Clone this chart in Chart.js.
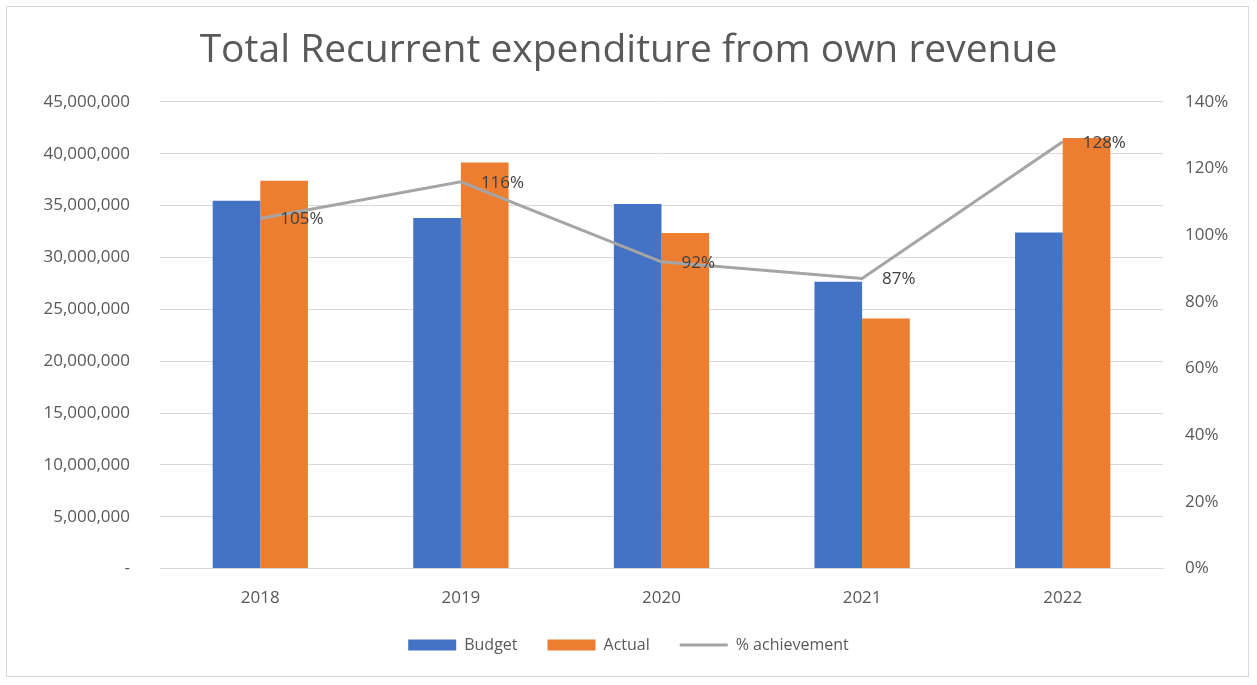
<!DOCTYPE html>
<html lang="en">
<head>
    <meta charset="UTF-8">
    <title>Total Recurrent expenditure</title>
    <style>
        body { margin: 0; background: #fff; }
        #wrap {
            position: absolute; left: 0; top: 0;
            width: 1257px; height: 685px;
        }
        #frame {
            position: absolute; left: 6px; top: 6px;
            width: 1243px; height: 671px;
            border: 1px solid #d9d9d9;
            box-sizing: border-box;
        }
    </style>
</head>
<body>
    <div id="wrap">
        <div id="frame"></div>
        <canvas id="myChart" width="1257" height="685"></canvas>
    </div>

    <script src="https://cdn.jsdelivr.net/npm/chart.js"></script>
    <script>
        const years = ['2018', '2019', '2020', '2021', '2022'];
        const budget = [35450000, 33800000, 35150000, 27650000, 32400000];
        const actual = [37400000, 39150000, 32350000, 24100000, 41500000];
        const achievement = [1.05, 1.16, 0.92, 0.87, 1.28];

        const grey = '#595959';
        const fam = '"Open Sans", sans-serif';

        // % labels to the right of each line point
        const pctLabels = {
            id: 'pctLabels',
            afterDatasetsDraw(chart) {
                const meta = chart.getDatasetMeta(2);
                const ctx = chart.ctx;
                ctx.save();
                ctx.font = '17px ' + fam;
                ctx.fillStyle = '#404040';
                ctx.textAlign = 'left';
                ctx.textBaseline = 'middle';
                meta.data.forEach((pt, i) => {
                    ctx.fillText(Math.round(achievement[i] * 100) + '%', pt.x + 20, pt.y + 1);
                });
                ctx.restore();
            }
        };

        new Chart(document.getElementById('myChart'), {
            type: 'bar',
            data: {
                labels: years,
                datasets: [
                    {
                        label: 'Budget',
                        data: budget,
                        backgroundColor: '#4472C4',
                        pointStyle: 'rect',
                        yAxisID: 'y',
                        order: 2
                    },
                    {
                        label: 'Actual',
                        data: actual,
                        backgroundColor: '#ED7D31',
                        pointStyle: 'rect',
                        yAxisID: 'y',
                        order: 2
                    },
                    {
                        type: 'line',
                        label: '% achievement',
                        data: achievement,
                        borderColor: '#A5A5A5',
                        backgroundColor: '#A5A5A5',
                        borderWidth: 3,
                        pointRadius: 0,
                        pointStyle: 'line',
                        tension: 0,
                        yAxisID: 'y1',
                        order: 1
                    }
                ]
            },
            options: {
                responsive: false,
                animation: false,
                categoryPercentage: 0.475,
                barPercentage: 1,
                layout: { padding: { left: 10, right: 10, top: 21, bottom: 22 } },
                plugins: {
                    title: {
                        display: true,
                        text: 'Total Recurrent expenditure from own revenue',
                        color: grey,
                        font: { size: 39, family: fam, weight: 'normal' },
                        padding: { top: 6, bottom: 28 }
                    },
                    legend: {
                        position: 'bottom',
                        labels: {
                            usePointStyle: true,
                            pointStyleWidth: 48,
                            boxHeight: 11,
                            color: grey,
                            padding: 30,
                            font: { size: 16, family: fam },
                            sort: (a, b) => a.datasetIndex - b.datasetIndex
                        }
                    },
                    tooltip: { enabled: false }
                },
                scales: {
                    x: {
                        grid: { display: false },
                        border: { color: '#d9d9d9' },
                        ticks: {
                            color: grey, padding: 11,
                            font: { size: 17, family: fam }
                        },
                        afterFit: s => { s.height = s.height - 12; }
                    },
                    y: {
                        position: 'left',
                        min: 0, max: 45000000,
                        ticks: {
                            stepSize: 5000000,
                            padding: 30,
                            color: grey,
                            font: { size: 17, family: fam },
                            callback: v => v === 0 ? '-' : v.toLocaleString('en-US')
                        },
                        grid: { color: '#d9d9d9', drawTicks: false },
                        border: { display: false },
                        afterFit: s => { s.width = 150; }
                    },
                    y1: {
                        position: 'right',
                        min: 0, max: 1.4,
                        ticks: {
                            stepSize: 0.2,
                            padding: 22,
                            color: grey,
                            font: { size: 17, family: fam },
                            callback: v => Math.round(v * 100) + '%'
                        },
                        grid: { display: false, drawTicks: false },
                        border: { display: false },
                        afterFit: s => { s.width = 84; }
                    }
                }
            },
            plugins: [pctLabels]
        });
    </script>
</body>
</html>
